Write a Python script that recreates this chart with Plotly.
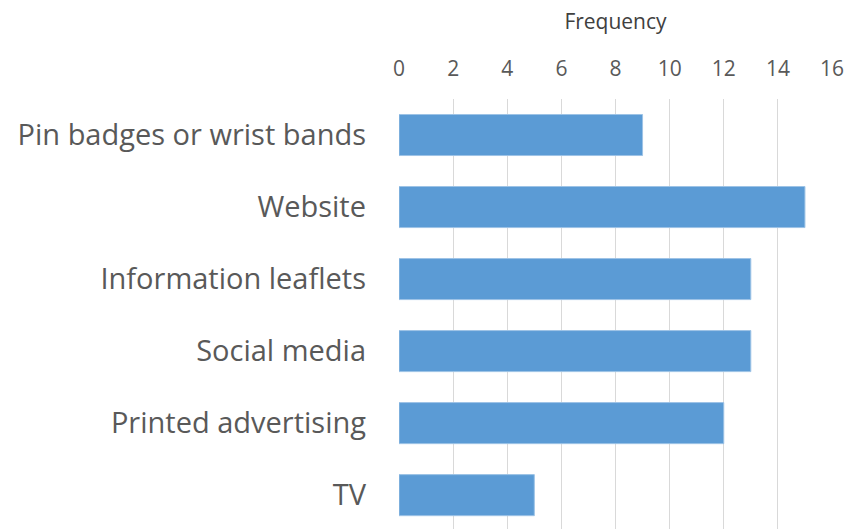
import plotly.graph_objects as go

categories = ["Pin badges or wrist bands", "Website", "Information leaflets",
              "Social media", "Printed advertising", "TV"]
frequency = [9, 15, 13, 13, 12, 5]
x_ticks = [0, 2, 4, 6, 8, 10, 12, 14, 16]

fig = go.Figure(
    go.Bar(
        y=categories,
        x=frequency,
        orientation="h",
        marker=dict(color="#5B9BD5", line=dict(color="#9DC3E6", width=1)),
        hoverinfo="x+y",
    )
)

fig.update_layout(
    width=847,
    height=529,
    margin=dict(l=399, r=15, t=99, b=0),
    paper_bgcolor="white",
    plot_bgcolor="white",
    bargap=0.43,
    showlegend=False,
    font=dict(family="Open Sans", color="#595959"),
    xaxis=dict(
        side="top",
        range=[0, 16],
        tickvals=x_ticks,
        ticktext=[str(v) for v in x_ticks],
        tickfont=dict(size=21, color="#595959"),
        showgrid=True,
        gridcolor="#D9D9D9",
        gridwidth=1,
        zeroline=False,
        showline=False,
        ticks="",
        ticklabelstandoff=18,
        title=dict(text="Frequency", font=dict(size=21, color="#404040"), standoff=18),
    ),
    yaxis=dict(
        categoryorder="array",
        categoryarray=categories,
        range=[5.47, -0.5],
        tickfont=dict(size=29, color="#595959"),
        showgrid=False,
        zeroline=False,
        showline=False,
        ticks="",
        ticklabelstandoff=32,
    ),
)

fig.write_html("out.html")
